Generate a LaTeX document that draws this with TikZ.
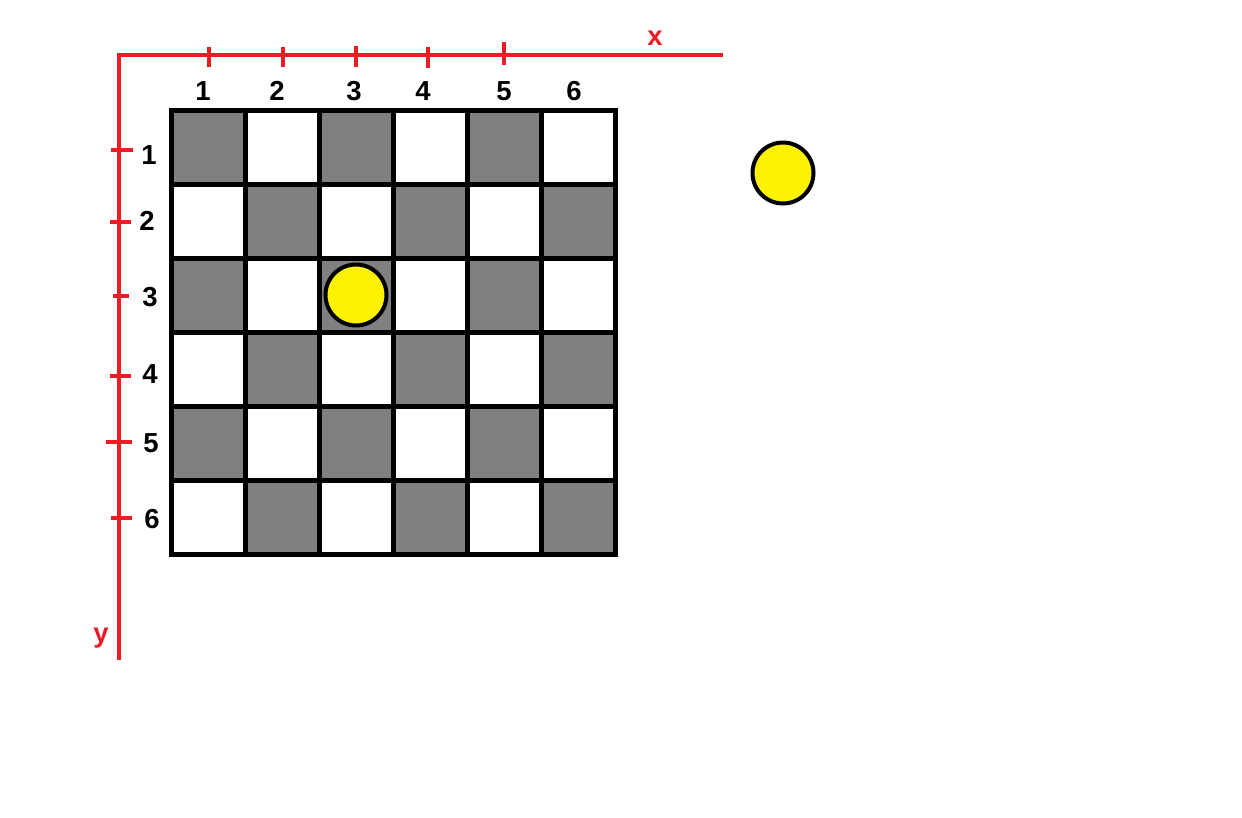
\documentclass[tikz,border=0pt]{standalone}
\usepackage{fontspec}
\setmainfont{Liberation Sans}
\definecolor{axisred}{HTML}{ED1C24}
\definecolor{cellgrey}{HTML}{808080}
\definecolor{pieceyellow}{HTML}{FFF200}
\begin{document}
\begin{tikzpicture}[
  x=1pt, y=-1pt,
  cell/.style={draw, line width=5pt, minimum size=74pt, inner sep=0pt, outer sep=0pt},
  dark/.style={cell, fill=cellgrey},
  light/.style={cell, fill=white},
  axis/.style={axisred, line width=4.5pt},
  num/.style={font=\fontsize{27.5}{30}\selectfont\bfseries, inner sep=0pt},
  axislabel/.style={num, text=axisred},
  piece/.style={circle, draw, line width=4pt, fill=pieceyellow, minimum size=61pt, inner sep=0pt}
]
\useasboundingbox[fill=white] (0,0) rectangle (1242,817);

% board
\foreach \c in {1,...,6}
  \foreach \r in {1,...,6} {
    \ifodd\numexpr\c+\r\relax \def\shade{light}\else\def\shade{dark}\fi
    \node[\shade] (cell-\c-\r) at ({134+74*\c},{73+74*\r}) {};
  }

% axes
\coordinate (origin) at (119,55);
\coordinate (xend) at (723,55);
\coordinate (yend) at (119,660);
\draw[axis] (xend) -- (origin) -- (yend);
\node[axislabel] (xlabel) at (655,38) {x};
\node[axislabel] (ylabel) at (101,638) {y};

% ticks
\foreach \x/\a/\b in {209/47/67, 283/47/67, 356/46/67, 428/47/68, 504/42/65}
  \draw[axis] (\x,\a) -- (\x,\b);
\foreach \y/\a/\b in {150/111/133, 222/110/131, 296/113/129, 376/110/131, 442/106/132, 518/111/132}
  \draw[axis] (\a,\y) -- (\b,\y);

% numbers
\foreach \n/\x in {1/203, 2/277, 3/354, 4/423, 5/504, 6/574}
  \node[num] (col-\n) at (\x,91) {\n};
\foreach \n/\x/\y in {1/149/155, 2/147/221, 3/150/297, 4/150/374, 5/151/443, 6/152/519}
  \node[num] (row-\n) at (\x,\y) {\n};

% pieces
\node[piece] (piece) at (cell-3-3) {};
\node[piece] (spare) at (783,173) {};
\end{tikzpicture}
\end{document}
